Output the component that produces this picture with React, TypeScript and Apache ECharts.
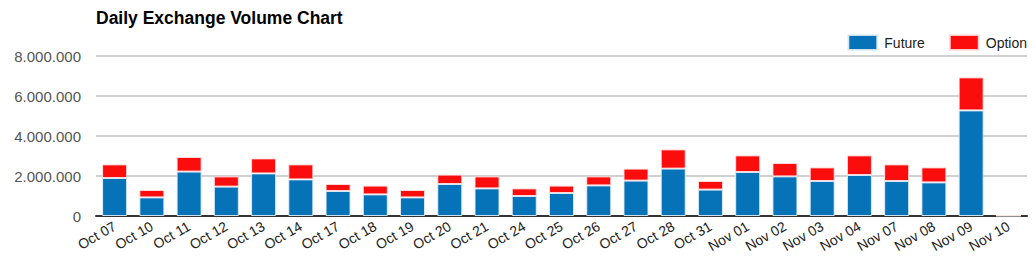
import React, { useEffect, useRef } from "react";
import * as echarts from "echarts";

const categories = [
  "Oct 07", "Oct 10", "Oct 11", "Oct 12", "Oct 13", "Oct 14", "Oct 17", "Oct 18", "Oct 19",
  "Oct 20", "Oct 21", "Oct 24", "Oct 25", "Oct 26", "Oct 27", "Oct 28", "Oct 31",
  "Nov 01", "Nov 02", "Nov 03", "Nov 04", "Nov 07", "Nov 08", "Nov 09", "Nov 10",
];

const futureValues = [
  1900000, 930000, 2220000, 1470000, 2130000, 1830000, 1250000, 1080000, 930000,
  1600000, 1380000, 1000000, 1150000, 1530000, 1770000, 2370000, 1320000,
  2200000, 1980000, 1750000, 2050000, 1750000, 1680000, 5280000, 20000,
];

const optionValues = [
  680000, 370000, 730000, 510000, 750000, 750000, 350000, 440000, 370000,
  470000, 600000, 380000, 370000, 450000, 600000, 960000, 430000,
  830000, 670000, 680000, 980000, 830000, 750000, 1650000, 5000,
];

const yTicks = { min: 0, max: 8000000, interval: 2000000 };

const FONT = "'Liberation Sans', Arial, sans-serif";

function fmt(v: number): string {
  return String(Math.round(v)).replace(/\B(?=(\d{3})+(?!\d))/g, ".");
}

export default function App() {
  const ref = useRef<HTMLDivElement>(null);
  useEffect(() => {
    if (!ref.current) return;
    const chart = echarts.init(ref.current, undefined, { renderer: "svg" });
    chart.setOption({
      animation: false,
      textStyle: { fontFamily: FONT },
      title: {
        text: "Daily Exchange Volume Chart",
        left: 88,
        top: 1,
        padding: 0,
        textStyle: { fontSize: 17.5, fontWeight: "bold", color: "#000", fontFamily: FONT },
      },
      legend: {
        right: 9,
        top: 26,
        padding: 0,
        icon: "rect",
        itemWidth: 29,
        itemHeight: 15,
        itemGap: 24,
        textStyle: { fontSize: 14, color: "#222", fontFamily: FONT, padding: [0, 0, 0, 2] },
        data: ["Future", "Option"],
      },
      grid: { left: 88, right: 9, top: 48, bottom: 52, containLabel: false },
      xAxis: {
        type: "category",
        data: categories,
        axisTick: { show: false },
        axisLine: { lineStyle: { color: "#333", width: 2 } },
        axisLabel: {
          rotate: 30,
          fontSize: 14,
          color: "#222",
          margin: 9,
          interval: 0,
          fontFamily: FONT,
        },
      },
      yAxis: {
        type: "value",
        min: yTicks.min,
        max: yTicks.max,
        interval: yTicks.interval,
        axisLine: { show: false },
        axisTick: { show: false },
        splitLine: { lineStyle: { color: "#d0d0d0", width: 2 } },
        axisLabel: {
          fontSize: 15,
          color: "#555",
          margin: 15,
          formatter: (v: number) => fmt(v),
          fontFamily: FONT,
        },
      },
      series: [
        {
          name: "Future",
          type: "bar",
          stack: "total",
          data: futureValues,
          barWidth: 25,
          itemStyle: { color: "#0673b9", borderColor: "rgba(225,238,248,0.9)", borderWidth: 1 },
        },
        {
          name: "Option",
          type: "bar",
          stack: "total",
          data: optionValues,
          barWidth: 25,
          itemStyle: { color: "#fc0d0d", borderColor: "rgba(255,225,225,0.9)", borderWidth: 1 },
        },
      ],
    });
    return () => chart.dispose();
  }, []);
  return <div ref={ref} style={{ width: 1028, height: 260 }} />;
}
